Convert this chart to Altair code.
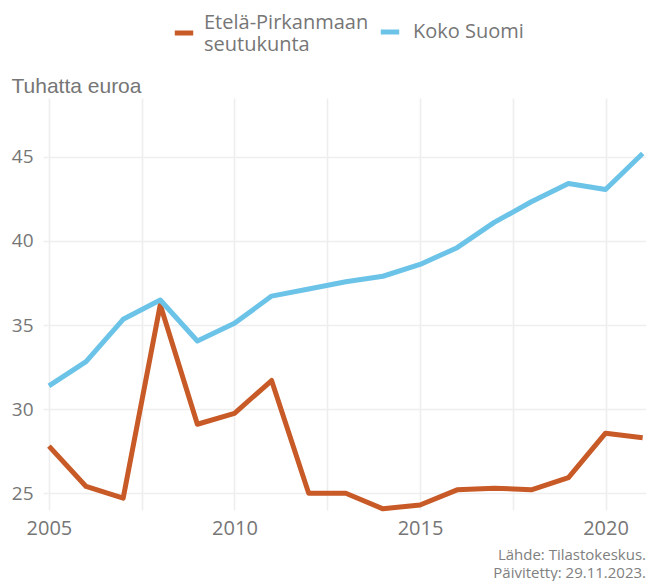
import altair as alt
import pandas as pd

years = list(range(2005, 2022))
etela = [27.8, 25.4, 24.7, 36.2, 29.1, 29.75, 31.7, 25.0, 25.0, 24.07, 24.3,
         25.2, 25.3, 25.2, 25.93, 28.57, 28.3]
koko = [31.38, 32.82, 35.34, 36.49, 34.05, 35.1, 36.72, 37.14, 37.57, 37.9,
        38.6, 39.6, 41.1, 42.33, 43.42, 43.06, 45.2]
series_names = ["Etelä-Pirkanmaan seutukunta", "Koko Suomi"]
series_colors = ["#c85a27", "#6cc3e8"]
x_grid_values = [2005, 2007.5, 2010, 2012.5, 2015, 2017.5, 2020]
y_tick_values = [25, 30, 35, 40, 45]
caption = ["Lähde: Tilastokeskus.", "Päivitetty: 29.11.2023."]

df_e = pd.DataFrame({"vuosi": years, "arvo": etela, "alue": series_names[0]})
df_k = pd.DataFrame({"vuosi": years, "arvo": koko, "alue": series_names[1]})

FONT = "Open Sans"
GRAY = "#767676"

x_enc = alt.X("vuosi:Q",
              scale=alt.Scale(domain=[2004.84, 2021.09], nice=False, zero=False),
              axis=alt.Axis(values=x_grid_values, title=None, grid=True,
                            labelExpr="datum.value % 5 == 0 ? format(datum.value, 'd') : ''",
                            labelFont=FONT, labelFontSize=20, labelColor=GRAY,
                            labelPadding=8, ticks=False, domain=False,
                            gridColor="#eeeeee", gridWidth=1.6, labelFlush=False))
y_enc = alt.Y("arvo:Q",
              scale=alt.Scale(domain=[24.0, 48.5], nice=False, zero=False),
              axis=alt.Axis(values=y_tick_values, title="Tuhatta euroa",
                            titleAngle=0, titleAlign="left", titleBaseline="alphabetic",
                            titleX=-32, titleY=-6, titleFont="Liberation Sans",
                            titleFontSize=21, titleFontWeight="normal", titleColor=GRAY,
                            labelFont=FONT, labelFontSize=19, labelColor=GRAY,
                            labelPadding=10, ticks=False, domain=False,
                            gridColor="#eeeeee", gridWidth=1.6))

legend_common = dict(orient="none", direction="horizontal", title=None,
                     symbolType="stroke", symbolStrokeWidth=5, symbolSize=340,
                     labelFont=FONT, labelFontSize=20, labelColor=GRAY,
                     labelLimit=400)

line_e = alt.Chart(df_e).mark_line(strokeWidth=5, strokeCap="butt", strokeJoin="round").encode(
    x=x_enc, y=y_enc,
    color=alt.Color("alue:N",
                    scale=alt.Scale(domain=[series_names[0]], range=[series_colors[0]]),
                    legend=alt.Legend(legendX=129, legendY=-77, labelBaseline="bottom",
                                      labelOffset=8,
                                      labelExpr="['Etelä-Pirkanmaan', 'seutukunta']",
                                      **legend_common)),
)
line_k = alt.Chart(df_k).mark_line(strokeWidth=5, strokeCap="butt", strokeJoin="round").encode(
    x=x_enc, y=y_enc,
    color=alt.Color("alue:N",
                    scale=alt.Scale(domain=[series_names[1]], range=[series_colors[1]]),
                    legend=alt.Legend(legendX=335, legendY=-78, labelOffset=11,
                                      **legend_common)),
)

chart = alt.layer(line_e, line_k).resolve_scale(color="independent").properties(
    width=603,
    height=412,
    autosize=alt.AutoSizeParams(type="none"),
    padding={"left": 35, "top": 90, "right": 0, "bottom": 76},
    title=alt.TitleParams(caption, orient="bottom", anchor="end", frame="group",
                          font=FONT, fontSize=15, fontWeight="normal",
                          color="#808080", offset=10, lineHeight=18),
).configure_view(stroke=None)

chart.save("out.html", embed_options={"renderer": "svg", "actions": False})
